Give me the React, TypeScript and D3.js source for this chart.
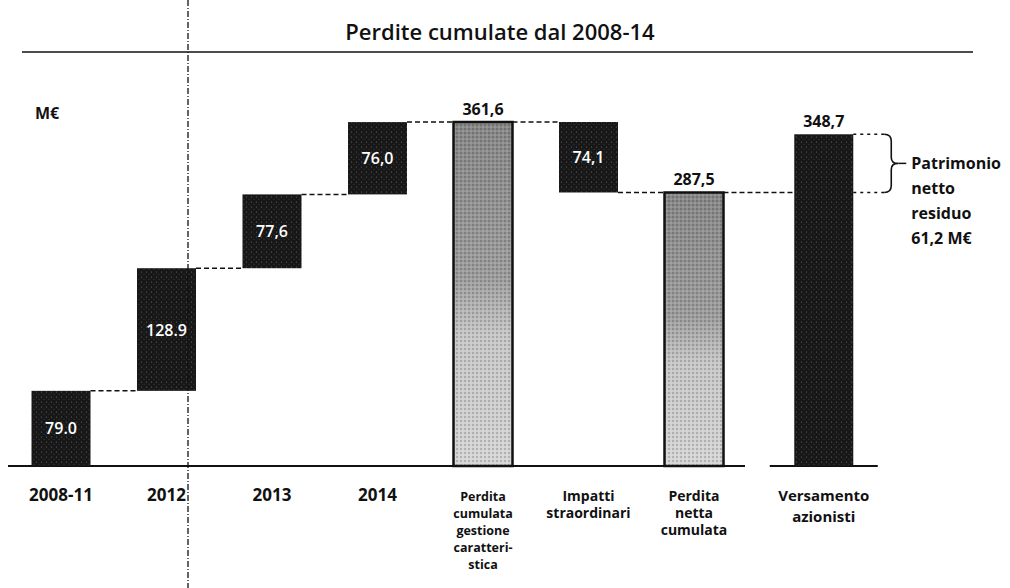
import React from 'react';
import * as d3 from 'd3';

// chart data
const categories = ['2008-11', '2012', '2013', '2014', 'Perdita cumulata', 'Impatti straordinari', 'Perdita netta', 'Versamento azionisti'];
const categoryLines = [
  ['2008-11'],
  ['2012'],
  ['2013'],
  ['2014'],
  ['Perdita', 'cumulata', 'gestione', 'caratteri-', 'stica'],
  ['Impatti', 'straordinari'],
  ['Perdita', 'netta', 'cumulata'],
  ['Versamento', 'azionisti'],
];
const values = [79.0, 128.9, 77.6, 76.0, 361.6, -74.1, 287.5, 348.7];
const kinds = ['step', 'step', 'step', 'step', 'total', 'step', 'total', 'funding'];
const valueLabels = ['79.0', '128.9', '77,6', '76,0', '361,6', '74,1', '287,5', '348,7'];
const residuoLines = ['Patrimonio', 'netto', 'residuo', '61,2 M€'];
const title = 'Perdite cumulate dal 2008-14';
const unitLabel = 'M€';

const W = 1010;
const H = 588;
const FONT = "'Open Sans', 'DejaVu Sans', sans-serif";

export default function App() {
  const base = 466;
  const y = d3.scaleLinear().domain([0, 361.6]).range([base, 122]);

  const mainCats = categories.slice(0, 7);
  const x = d3.scalePoint<string>().domain(mainCats).range([61, 694]);
  // the funding bar stands apart from the waterfall group
  const cx = (c: string, i: number) => (i < 7 ? (x(c) as number) : (x(mainCats[6]) as number) + x.step() * 1.23);
  const bw = 59;

  // waterfall
  let cum = 0;
  const bars = categories.map((c, i) => {
    const v = values[i];
    let lo: number, hi: number, end: number;
    if (kinds[i] === 'step') {
      const start = cum;
      cum += v;
      lo = Math.min(start, cum);
      hi = Math.max(start, cum);
      end = cum;
    } else {
      lo = 0;
      hi = v;
      if (kinds[i] === 'total') cum = v;
      end = v;
    }
    return { c, i, lo, hi, end, kind: kinds[i], label: valueLabels[i], x: cx(c, i) };
  });

  const vers = bars[7];
  const netta = bars[6];
  const braceX = vers.x + bw / 2 + 38;
  const bTop = y(vers.hi);
  const bBot = y(netta.hi);
  const bMid = (bTop + bBot) / 2;

  return (
    <>
      <style>{`body{margin:0;background:#fff}`}</style>
      <svg width={W} height={H} style={{ display: 'block', background: '#fff' }} fontFamily={FONT}>
        <defs>
          <linearGradient id="lightGrad" x1="0" y1="0" x2="0" y2="1">
            <stop offset="0%" stopColor="#888" />
            <stop offset="45%" stopColor="#9e9e9e" />
            <stop offset="62%" stopColor="#c8c8c8" />
            <stop offset="100%" stopColor="#d6d6d6" />
          </linearGradient>
          <pattern id="stipple" width="4" height="4" patternUnits="userSpaceOnUse">
            <circle cx="1" cy="1" r="0.7" fill="#000" opacity="0.45" />
            <circle cx="3" cy="3" r="0.6" fill="#fff" opacity="0.5" />
          </pattern>
          <pattern id="speckle" width="5" height="5" patternUnits="userSpaceOnUse">
            <circle cx="1.5" cy="2" r="0.6" fill="#fff" opacity="0.35" />
            <circle cx="4" cy="4.2" r="0.5" fill="#bbb" opacity="0.3" />
          </pattern>
        </defs>

        {/* title and rule */}
        <text x={500} y={40} textAnchor="middle" fontSize={22} fontWeight={600} fill="#111">{title}</text>
        <line x1={22} x2={973} y1={52} y2={52} stroke="#111" strokeWidth={1.5} />

        <text x={35} y={119} fontSize={16} fontWeight={700} fill="#111">{unitLabel}</text>

        {/* baselines */}
        <line x1={(x(mainCats[0]) as number) - 53} x2={netta.x + 51} y1={base} y2={base} stroke="#111" strokeWidth={2} />
        <line x1={vers.x - 54} x2={vers.x + 54} y1={base} y2={base} stroke="#111" strokeWidth={2} />

        {/* connectors */}
        {bars.slice(0, 7).map((b, i) => {
          const next = bars[i + 1];
          return (
            <line key={'c' + i} x1={b.x + bw / 2} x2={next.x - bw / 2} y1={y(b.end)} y2={y(b.end)}
              stroke="#111" strokeWidth={1.5} strokeDasharray="5 3" />
          );
        })}
        <line x1={vers.x + bw / 2} x2={braceX - 7} y1={bTop} y2={bTop} stroke="#111" strokeWidth={1.5} strokeDasharray="3 4" />
        <line x1={vers.x + bw / 2} x2={braceX - 7} y1={bBot} y2={bBot} stroke="#111" strokeWidth={1.5} strokeDasharray="3 4" />

        {/* bars */}
        {bars.map((b) => {
          const top = y(b.hi);
          const h = y(b.lo) - top;
          const light = b.kind === 'total';
          return (
            <g key={b.c}>
              <rect x={b.x - bw / 2} y={top} width={bw} height={h} fill={light ? 'url(#lightGrad)' : '#171717'} />
              <rect x={b.x - bw / 2} y={top} width={bw} height={h} fill={light ? 'url(#stipple)' : 'url(#speckle)'} />
              {light && (
                <rect x={b.x - bw / 2} y={top} width={bw} height={h} fill="none" stroke="#111" strokeWidth={2.5} />
              )}
              {b.kind === 'step' ? (
                <text x={b.x} y={(top + y(b.lo)) / 2 + 6} textAnchor="middle" fontSize={16} fontWeight={600} fill="#fff">{b.label}</text>
              ) : (
                <text x={b.x} y={top - 7} textAnchor="middle" fontSize={16} fontWeight={700} fill="#111">{b.label}</text>
              )}
            </g>
          );
        })}

        {/* brace for residual equity */}
        <path
          d={`M${braceX - 7},${bTop} Q${braceX},${bTop} ${braceX},${bTop + 7} L${braceX},${bMid - 6} Q${braceX},${bMid} ${braceX + 7},${bMid} Q${braceX},${bMid} ${braceX},${bMid + 6} L${braceX},${bBot - 7} Q${braceX},${bBot} ${braceX - 7},${bBot}`}
          fill="none" stroke="#111" strokeWidth={1.6} />
        <line x1={braceX + 7} x2={braceX + 15} y1={bMid} y2={bMid} stroke="#111" strokeWidth={1.5} />
        {residuoLines.map((t, k) => (
          <text key={t} x={braceX + 20} y={bMid + 6 + k * 25} fontSize={16} fontWeight={700} fill="#111">{t}</text>
        ))}

        {/* category labels */}
        {bars.map((b, i) => {
          const lines = categoryLines[i];
          const funding = b.kind === 'funding';
          const fs = lines.length === 1 ? 17 : lines.length >= 5 ? 12.5 : funding ? 15 : 14;
          const lh = funding ? 21 : 17;
          return (
            <text key={'l' + i} textAnchor="middle" fontSize={fs} fontWeight={700} fill="#111">
              {lines.map((t, k) => (
                <tspan key={k} x={b.x} y={501 + k * lh}>{t}</tspan>
              ))}
            </text>
          );
        })}

        {/* fold line from the scanned page */}
        <line x1={188} x2={188} y1={0} y2={H} stroke="#111" strokeWidth={1.3} strokeDasharray="6 2 1 2" />
      </svg>
    </>
  );
}
